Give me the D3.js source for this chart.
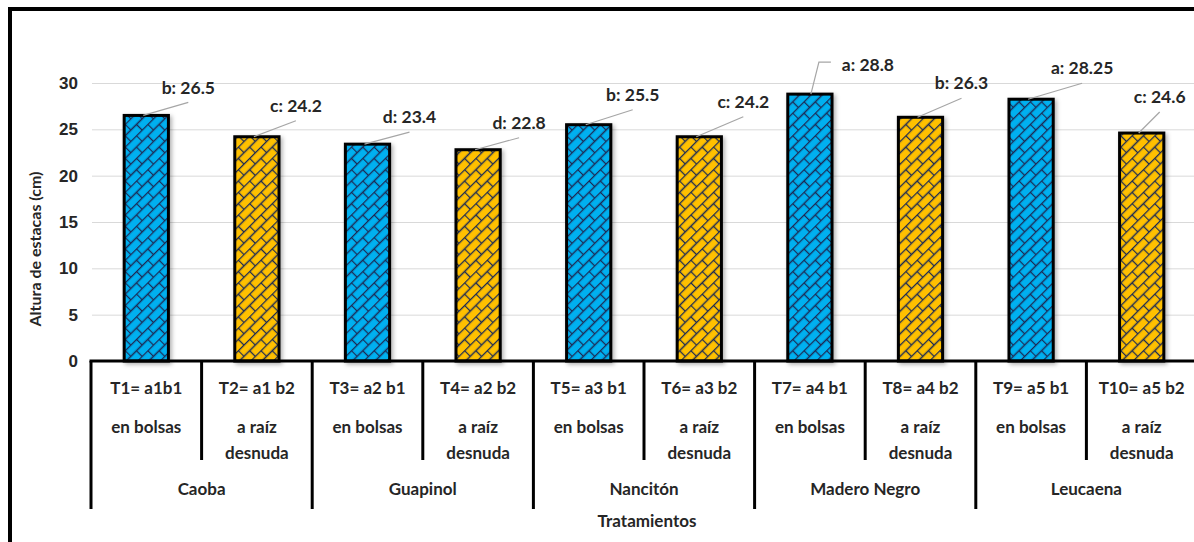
<!DOCTYPE html>
<html>
<head>
<meta charset="utf-8">
<script src="https://cdn.jsdelivr.net/npm/d3@7"></script>
<style>
    body { margin: 0; background: #fff; }
    svg { display: block; font-family: Lato, "Open Sans", sans-serif; }
</style>
</head>
<body>
<svg id="chart"></svg>
<script>
"use strict";

// Chart data
const treatments = ["T1= a1b1", "T2= a1 b2", "T3= a2 b1", "T4= a2 b2", "T5= a3 b1",
    "T6= a3 b2", "T7= a4 b1", "T8= a4 b2", "T9= a5 b1", "T10= a5 b2"];
const methods = [["en bolsas"], ["a raíz", "desnuda"]];
const species = ["Caoba", "Guapinol", "Nancitón", "Madero Negro", "Leucaena"];
const heights = [26.5, 24.2, 23.4, 22.8, 25.5, 24.2, 28.8, 26.3, 28.25, 24.6];
const letters = ["b", "c", "d", "d", "b", "c", "a", "b", "a", "c"];
const yTicks = [0, 5, 10, 15, 20, 25, 30];

// Label placement (text centre relative to bar top)
const labelOffsets = [[42, -28], [39, -31], [42, -27], [41, -27], [44, -30],
    [44, -35], [58, -29], [41, -34], [51, -31], [18, -36]];

// Graph dimensions
const width = 1194;
const height = 542;
const plot = { left: 91, right: 1197, top: 83, bottom: 361 };
const textColor = "#262626";
const colors = ["#00B0F0", "#FFC000"];

const svg = d3.select("#chart").attr("width", width).attr("height", height);

// Scales
const xCell = d3.scaleBand().domain(treatments).range([plot.left, plot.right]);
const x = d3.scaleBand().domain(treatments).range([plot.left, plot.right])
    .paddingInner(0.6).paddingOuter(0.3);
const y = d3.scaleLinear().domain([0, 30]).range([plot.bottom, plot.top]);

// patterns + shadow
const defs = svg.append("defs");
colors.forEach((c, i) => {
    const p = defs.append("pattern")
        .attr("id", "brick" + i)
        .attr("patternUnits", "userSpaceOnUse")
        .attr("width", 16).attr("height", 16)
        .attr("patternTransform", "rotate(-45)");
    p.append("rect").attr("width", 16).attr("height", 16).attr("fill", c);
    p.append("path")
        .attr("d", "M0,0.5H16M0,8.5H16M0.5,0.5V8.5M8.5,8.5V16.5")
        .attr("stroke", "#1c2a55")
        .attr("stroke-width", 1.3)
        .attr("fill", "none");
});
const shadow = defs.append("filter").attr("id", "shadow")
    .attr("x", "-20%").attr("y", "-10%").attr("width", "150%").attr("height", "130%");
shadow.append("feDropShadow")
    .attr("dx", 2).attr("dy", 2).attr("stdDeviation", 2)
    .attr("flood-color", "#000").attr("flood-opacity", 0.3);

// outer frame
svg.append("path")
    .attr("d", `M10,${height} V9 H${width}`)
    .attr("fill", "none").attr("stroke", "#000").attr("stroke-width", 4);

// y axis with gridlines
const yAxis = svg.append("g")
    .attr("transform", `translate(${plot.left + 1},0)`)
    .call(d3.axisLeft(y).tickValues(yTicks).tickSize(-(width - plot.left)).tickPadding(14));
yAxis.select(".domain").remove();
yAxis.selectAll("line").attr("stroke", "#d9d9d9").attr("stroke-width", 1);
yAxis.selectAll("text")
    .attr("fill", textColor)
    .style("font-size", "17px")
    .style("font-weight", "700");

svg.append("text")
    .attr("transform", "translate(41,249) rotate(-90)")
    .attr("text-anchor", "middle")
    .attr("fill", textColor)
    .style("font-size", "16px")
    .style("font-weight", "700")
    .text("Altura de estacas (cm)");

// bars
svg.append("g").selectAll("rect")
    .data(heights)
    .join("rect")
    .attr("x", (d, i) => x(treatments[i]))
    .attr("y", d => y(d))
    .attr("width", x.bandwidth())
    .attr("height", d => y(0) - y(d))
    .attr("fill", (d, i) => `url(#brick${i % 2})`)
    .attr("stroke", "#000")
    .attr("stroke-width", 3)
    .attr("filter", "url(#shadow)");

// data labels with leader lines
const labels = svg.append("g");
heights.forEach((v, i) => {
    const bx = x(treatments[i]) + x.bandwidth() / 2;
    const by = y(v);
    const tx = bx + labelOffsets[i][0];
    const ty = by + labelOffsets[i][1];
    let d;
    if (i === 6) {
        // elbow leader to the left of the text
        d = `M${bx + 1},${by} L${bx + 9},${ty - 3} H${tx - 37}`;
    } else {
        d = `M${bx - 3},${by} L${tx},${ty + 15}`;
    }
    labels.append("path")
        .attr("d", d).attr("fill", "none")
        .attr("stroke", "#a6a6a6").attr("stroke-width", 1.2);
    labels.append("text")
        .attr("x", tx).attr("y", ty)
        .attr("dy", "0.35em")
        .attr("text-anchor", "middle")
        .attr("fill", textColor)
        .style("font-size", "17.5px")
        .style("font-weight", "700")
        .text(`${letters[i]}: ${v}`);
});

// category axis
const catAxis = svg.append("g");
catAxis.append("line")
    .attr("x1", plot.left - 1.5).attr("x2", width)
    .attr("y1", y(0)).attr("y2", y(0))
    .attr("stroke", "#000").attr("stroke-width", 3);

treatments.forEach((t, i) => {
    const left = xCell(t);
    const cx = left + xCell.bandwidth() / 2;
    catAxis.append("line")
        .attr("x1", left).attr("x2", left)
        .attr("y1", y(0)).attr("y2", i % 2 === 0 ? 509 : 460)
        .attr("stroke", "#000").attr("stroke-width", 3);
    catAxis.append("text")
        .attr("x", cx).attr("y", 388).attr("dy", "0.35em")
        .attr("text-anchor", "middle").attr("fill", textColor)
        .style("font-size", "17px").style("font-weight", "700")
        .text(t);
    methods[i % 2].forEach((line, j) => {
        catAxis.append("text")
            .attr("x", cx).attr("y", 427 + j * 26).attr("dy", "0.35em")
            .attr("text-anchor", "middle").attr("fill", textColor)
            .style("font-size", "17px").style("font-weight", "700")
            .text(line);
    });
});

species.forEach((s, k) => {
    const left = xCell(treatments[k * 2]);
    catAxis.append("text")
        .attr("x", left + xCell.bandwidth()).attr("y", 489).attr("dy", "0.35em")
        .attr("text-anchor", "middle").attr("fill", textColor)
        .style("font-size", "17px").style("font-weight", "700")
        .text(s);
});

svg.append("text")
    .attr("x", 647).attr("y", 521).attr("dy", "0.35em")
    .attr("text-anchor", "middle").attr("fill", textColor)
    .style("font-size", "17px").style("font-weight", "700")
    .text("Tratamientos");
</script>
</body>
</html>
